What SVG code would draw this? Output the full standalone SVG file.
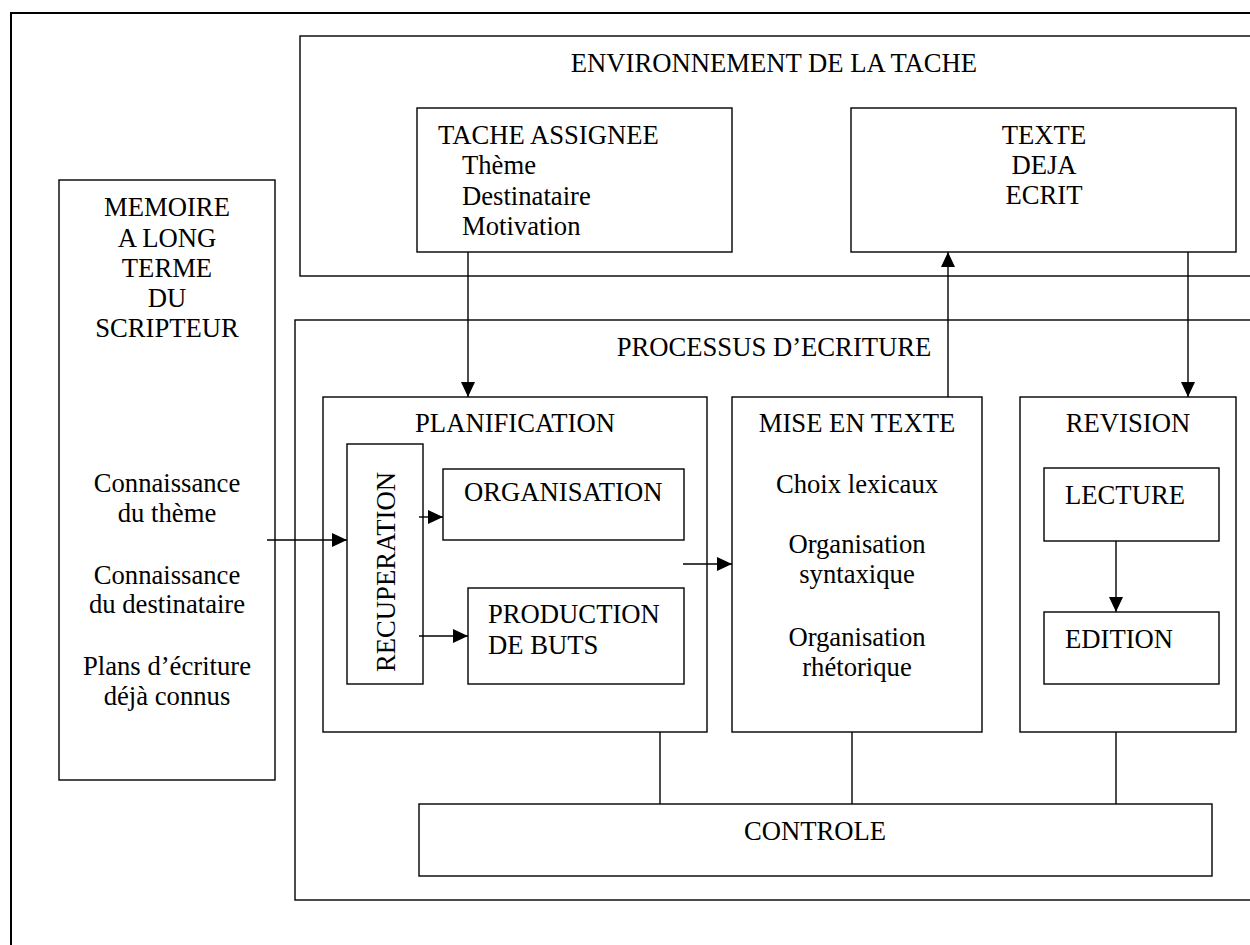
<svg xmlns="http://www.w3.org/2000/svg" width="1250" height="945" viewBox="0 0 1250 945">
<defs>
<marker id="ah" markerUnits="userSpaceOnUse" markerWidth="16" markerHeight="16" viewBox="0 0 16 16" refX="15" refY="7" orient="auto">
<path d="M0,0 L15,7 L0,14 Z" fill="#000"/>
</marker>
</defs>
<style>
.b{fill:none;stroke:#000;stroke-width:1.4}
.t{font-family:"Liberation Serif","Times New Roman",serif;font-size:26.67px;fill:#000}
.m{text-anchor:middle}
.c{fill:none;stroke:#000;stroke-width:1.4}
.a{fill:none;stroke:#000;stroke-width:1.4;marker-end:url(#ah)}
</style>
<rect width="1250" height="945" fill="#fff"/>
<path id="frame" d="M11,945 V13 H1252" fill="none" stroke="#000" stroke-width="2"/>

<g id="environnement">
<rect class="b" x="300" y="36" width="1000" height="240"/>
<text class="t m" x="774" y="72">ENVIRONNEMENT DE LA TACHE</text>
</g>
<g id="tache">
<rect class="b" x="417" y="108" width="315" height="144"/>
<text class="t" x="438" y="144">TACHE ASSIGNEE</text>
<text class="t" x="462" y="174">Thème</text>
<text class="t" x="462" y="205">Destinataire</text>
<text class="t" x="462" y="235">Motivation</text>
</g>
<g id="texte">
<rect class="b" x="851" y="108" width="385" height="144"/>
<text class="t m" x="1044" y="144">TEXTE</text>
<text class="t m" x="1044" y="174">DEJA</text>
<text class="t m" x="1044" y="204">ECRIT</text>
</g>
<g id="memoire">
<rect class="b" x="59" y="180" width="216" height="600"/>
<text class="t m" x="167" y="216">MEMOIRE</text>
<text class="t m" x="167" y="247">A LONG</text>
<text class="t m" x="167" y="277">TERME</text>
<text class="t m" x="167" y="307">DU</text>
<text class="t m" x="167" y="337">SCRIPTEUR</text>
<text class="t m" x="167" y="492">Connaissance</text>
<text class="t m" x="167" y="522">du thème</text>
<text class="t m" x="167" y="584">Connaissance</text>
<text class="t m" x="167" y="613">du destinataire</text>
<text class="t m" x="167" y="675">Plans d’écriture</text>
<text class="t m" x="167" y="705">déjà connus</text>
</g>
<g id="processus">
<rect class="b" x="295" y="320" width="1000" height="580"/>
<text class="t m" x="774" y="356">PROCESSUS D’ECRITURE</text>
</g>
<g id="planification">
<rect class="b" x="323" y="397" width="384" height="335"/>
<text class="t m" x="515" y="432">PLANIFICATION</text>
</g>
<g id="recuperation">
<rect class="b" x="347" y="444" width="76" height="240"/>
<text class="t m" transform="translate(395,572) rotate(-90)">RECUPERATION</text>
</g>
<g id="organisation">
<rect class="b" x="443" y="469" width="241" height="71"/>
<text class="t" x="464" y="501">ORGANISATION</text>
</g>
<g id="production">
<rect class="b" x="468" y="588" width="216" height="96"/>
<text class="t" x="488" y="623">PRODUCTION</text>
<text class="t" x="488" y="654">DE BUTS</text>
</g>
<g id="mise">
<rect class="b" x="732" y="397" width="250" height="335"/>
<text class="t m" x="857" y="432">MISE EN TEXTE</text>
<text class="t m" x="857" y="493">Choix lexicaux</text>
<text class="t m" x="857" y="553">Organisation</text>
<text class="t m" x="857" y="583">syntaxique</text>
<text class="t m" x="857" y="646">Organisation</text>
<text class="t m" x="857" y="676">rhétorique</text>
</g>
<g id="revision">
<rect class="b" x="1020" y="397" width="216" height="335"/>
<text class="t m" x="1128" y="432">REVISION</text>
</g>
<g id="lecture">
<rect class="b" x="1044" y="468" width="175" height="73"/>
<text class="t" x="1065" y="504">LECTURE</text>
</g>
<g id="edition">
<rect class="b" x="1044" y="612" width="175" height="72"/>
<text class="t" x="1065" y="648">EDITION</text>
</g>
<g id="controle">
<rect class="b" x="419" y="804" width="793" height="72"/>
<text class="t m" x="815" y="840">CONTROLE</text>
</g>

<g id="connectors">
<line class="a" x1="468" y1="252" x2="468" y2="397"/>
<line class="a" x1="948" y1="397" x2="948" y2="252"/>
<line class="a" x1="1188" y1="252" x2="1188" y2="397"/>
<line class="a" x1="267" y1="540" x2="347" y2="540"/>
<line class="a" x1="419" y1="517" x2="443" y2="517"/>
<line class="a" x1="419" y1="636" x2="468" y2="636"/>
<line class="a" x1="683" y1="564" x2="732" y2="564"/>
<line class="a" x1="1116" y1="541" x2="1116" y2="612"/>
<line class="c" x1="660" y1="732" x2="660" y2="804"/>
<line class="c" x1="852" y1="732" x2="852" y2="804"/>
<line class="c" x1="1116" y1="732" x2="1116" y2="804"/>
</g>
</svg>
